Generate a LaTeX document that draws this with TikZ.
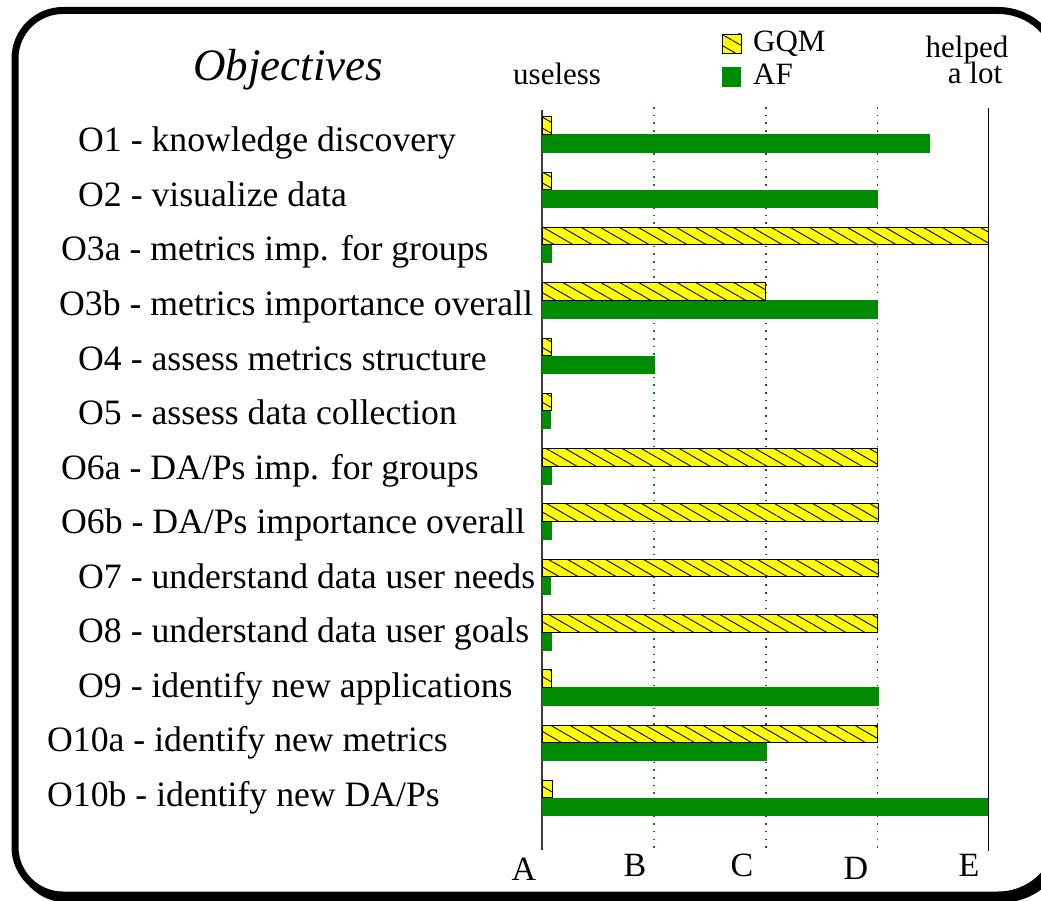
\documentclass[tikz,border=0pt]{standalone}
\usepackage{fontspec}
\setmainfont{Liberation Serif}
\usetikzlibrary{patterns.meta}
\definecolor{afgreen}{RGB}{0,140,0}
\definecolor{gqmyellow}{RGB}{255,255,0}
\definecolor{axisgray}{RGB}{60,60,60}
\begin{document}
\begin{tikzpicture}[x=1pt,y=-1pt,
  lbl/.style={anchor=base west,inner sep=0pt,font=\fontsize{35.7}{40}\selectfont},
  small/.style={inner sep=0pt,font=\fontsize{31}{36}\selectfont},
  grade/.style={anchor=base,inner sep=0pt,font=\fontsize{34}{40}\selectfont},
  gqm/.style={draw=black,line width=0.9pt,preaction={fill=gqmyellow},
    pattern={Lines[angle=-30,distance=9.5pt,line width=0.9pt]},pattern color=black},
  afbar/.style={fill=afgreen},
  dotline/.style={line width=1.3pt,dash pattern=on 1.6pt off 6.1pt},
  solidline/.style={line width=1.4pt},
  framepen/.style={line width=7pt}]

\useasboundingbox (0,0) rectangle (1041,901);
\clip (0,0) rectangle (1041,901);

% frame with drop shadow; its right side runs past the page edge
\filldraw[black,framepen] (504,14.5) [rounded corners=62pt] -- (1064,14.5) -- (1064,899)
  -- (504,899) [rounded corners=48pt] -- (19,899) -- (19,14.5) -- cycle;
\filldraw[fill=white,draw=black,framepen] (500,10.5) [rounded corners=62pt] -- (1060,10.5) -- (1060,895)
  -- (500,895) [rounded corners=48pt] -- (15,895) -- (15,10.5) -- cycle;

% scale lines A..E
\draw[solidline,axisgray] (542,110) -- (542,850);
\draw[dotline,afgreen] (654,107) -- (654,850);
\draw[dotline,black!75] (766,107) -- (766,850);
\draw[dotline,black!75] (877.5,107) -- (877.5,850);
\draw[solidline,black] (988.5,108) -- (988.5,851);

% bars: row / GQM end / AF end
\foreach \i/\g/\f in {0/551/930, 1/551/878, 2/988/552, 3/765/878, 4/551/655,
    5/551/551, 6/877/552, 7/878/552, 8/878/551, 9/877/552, 10/551/879,
    11/877/767, 12/552/988} {
  \pgfmathsetmacro\yb{134.3+55.3*\i}
  \fill[afbar] (542,\yb) rectangle (\f,\yb+18.5);
  \draw[gqm] (542,\yb-17.5) rectangle (\g,\yb);
}

% headings
\node[anchor=base west,inner sep=0pt,font=\fontsize{45}{50}\selectfont\itshape] (title) at (193,81) {Objectives};
\node[small,anchor=base west] (useless) at (513,85) {useless};
\node[small,anchor=base] (helped) at (967,58) {helped};
\node[small,anchor=base] (alot) at (975,84) {a lot};

% legend
\draw[gqm] (722,34) rectangle (741,53);
\fill[afbar] (722,67) rectangle (741,87);
\node[small,anchor=base west] (leggqm) at (753,52) {GQM};
\node[small,anchor=base west] (legaf) at (753,84.5) {AF};

% objective labels
\node[lbl] (o1)   at (78,152)   {O1 - knowledge discovery};
\node[lbl] (o2)   at (78,206.5) {O2 - visualize data};
\node[lbl] (o3a)  at (61,261)   {O3a - metrics imp. for groups};
\node[lbl] (o3b)  at (59,315.5) {O3b - metrics importance overall};
\node[lbl] (o4)   at (78,370)   {O4 - assess metrics structure};
\node[lbl] (o5)   at (78,424.5) {O5 - assess data collection};
\node[lbl] (o6a)  at (61,479)   {O6a - DA/Ps imp. for groups};
\node[lbl] (o6b)  at (61,533.5) {O6b - DA/Ps importance overall};
\node[lbl] (o7)   at (78,588)   {O7 - understand data user needs};
\node[lbl] (o8)   at (78,642.5) {O8 - understand data user goals};
\node[lbl] (o9)   at (78,697)   {O9 - identify new applications};
\node[lbl] (o10a) at (47,751.5) {O10a - identify new metrics};
\node[lbl] (o10b) at (47,806)   {O10b - identify new DA/Ps};

% grade letters
\node[grade] (ga) at (524,880) {A};
\node[grade] (gb) at (635,876) {B};
\node[grade] (gc) at (742,876) {C};
\node[grade] (gd) at (856,879) {D};
\node[grade] (ge) at (969,876) {E};
\end{tikzpicture}
\end{document}
